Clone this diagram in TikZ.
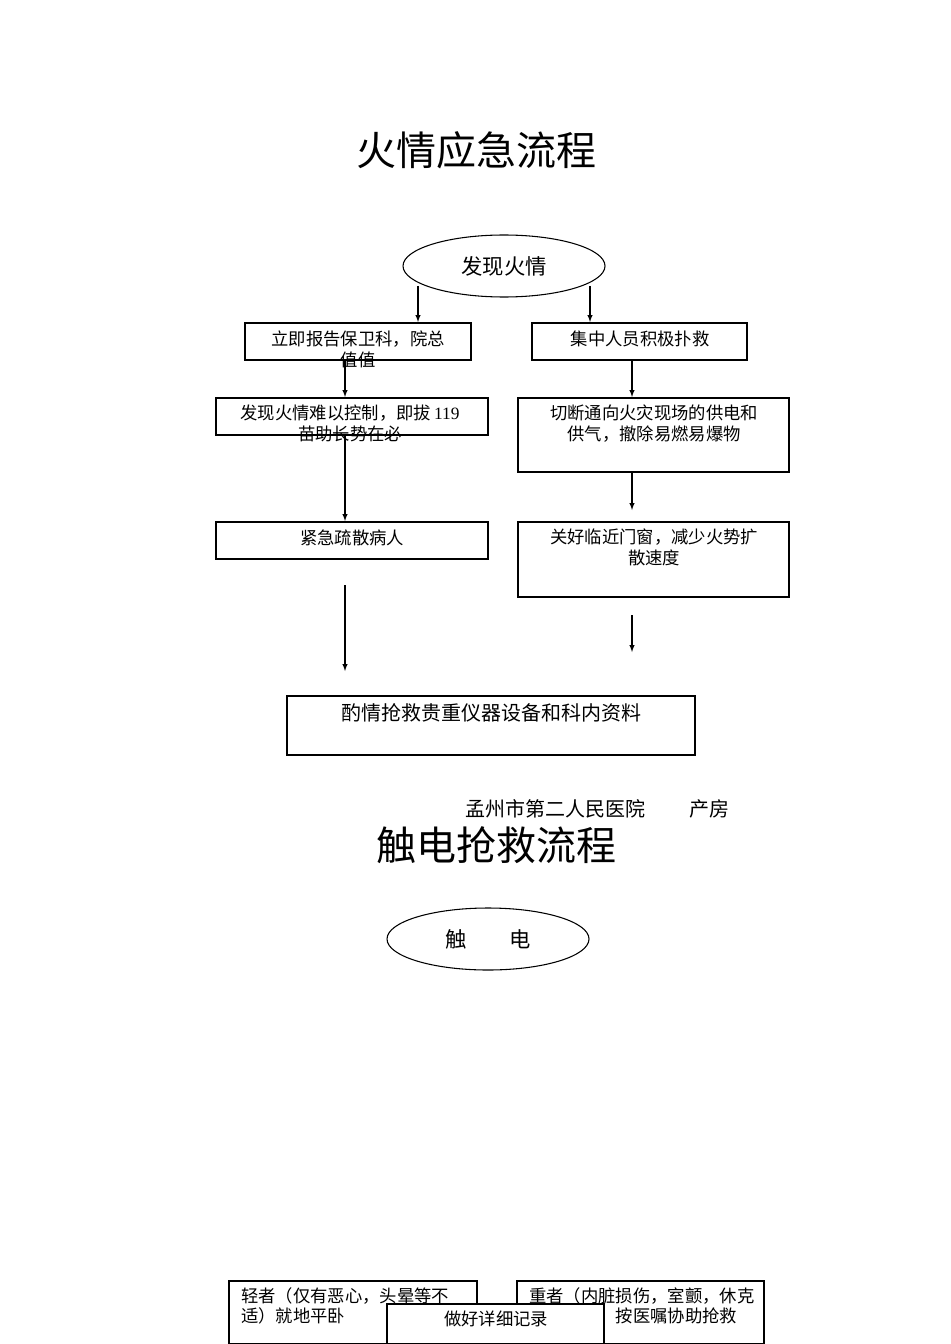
\documentclass[tikz,border=0pt]{standalone}
\usepackage{fontspec}
\setmainfont{Liberation Serif}
\newfontfamily\cjk{Noto Sans CJK SC}
\usetikzlibrary{shapes.geometric}
\begin{document}
\begin{tikzpicture}[x=0.75pt,y=-0.75pt,
  bx/.style={draw,thick,fill=white},
  tx/.style={anchor=north,font=\cjk\fontsize{13}{15.5}\selectfont,align=center,inner sep=0pt},
  el/.style={draw,thick,ellipse,minimum width=151.5pt,minimum height=46.5pt,font=\cjk\fontsize{16}{18}\selectfont},
  arr/.style={-latex,thick}]
\useasboundingbox (0,0) rectangle (950,1344);
\node[font=\cjk\fontsize{30}{34}\selectfont] (t1) at (476,150) {火情应急流程};
\node[el] (e1) at (504,266) {发现火情};
\draw[bx] (245,323) rectangle (471,360);
\node[tx] (b1) at (358,331) {立即报告保卫科，院总\\值值};
\draw[bx] (532,323) rectangle (747,360);
\node[tx] (b2) at (640,331) {集中人员积极扑救};
\draw[bx] (216,398) rectangle (488,435);
\node[tx] (b3) at (350,405) {发现火情难以控制，即拔\,\normalfont 119\\苗助长势在必};
\draw[bx] (518,398) rectangle (789,472);
\node[tx] (b4) at (654,405) {切断通向火灾现场的供电和\\供气，撤除易燃易爆物};
\draw[bx] (216,522) rectangle (488,559);
\node[tx] (b5) at (352,530) {紧急疏散病人};
\draw[bx] (518,522) rectangle (789,597);
\node[tx] (b6) at (654,529) {关好临近门窗，减少火势扩\\散速度};
\draw[bx] (287,696) rectangle (695,755);
\node[tx,font=\cjk\fontsize{15}{17}\selectfont] (b7) at (491,703) {酌情抢救贵重仪器设备和科内资料};
\coordinate (a1) at (418,286); \coordinate (a1e) at (418,322);
\coordinate (a2) at (590,286); \coordinate (a2e) at (590,322);
\coordinate (a3) at (345,360); \coordinate (a3e) at (345,397);
\coordinate (a4) at (632,360); \coordinate (a4e) at (632,397);
\coordinate (a5) at (345,435); \coordinate (a5e) at (345,521);
\coordinate (a6) at (632,472); \coordinate (a6e) at (632,510);
\coordinate (a7) at (345,585); \coordinate (a7e) at (345,671);
\coordinate (a8) at (632,615); \coordinate (a8e) at (632,652);
\foreach \i in {1,...,8} \draw[arr] (a\i) -- (a\i e);
\node[tx,anchor=west,font=\cjk\fontsize{15}{17}\selectfont] (h) at (465,809) {孟州市第二人民医院\hspace{2.2em}产房};
\node[font=\cjk\fontsize{30}{34}\selectfont] (t2) at (496,845) {触电抢救流程};
\node[el] (e2) at (488,939) {触\hspace{2em}电};
\draw[bx] (229,1281) rectangle (477,1344);
\node[tx,anchor=north west,align=left] (c1) at (241,1287) {轻者（仅有恶心，头晕等不\\适）就地平卧};
\draw[bx] (517,1281) rectangle (764,1344);
\node[tx,anchor=north west,align=left] (c2) at (529,1287) {重者（内脏损伤，室颤，休克\\\hspace{5em}按医嘱协助抢救};
\draw[bx] (387,1304) rectangle (604,1344);
\node[tx] (c3) at (496,1311) {做好详细记录};
\end{tikzpicture}
\end{document}
